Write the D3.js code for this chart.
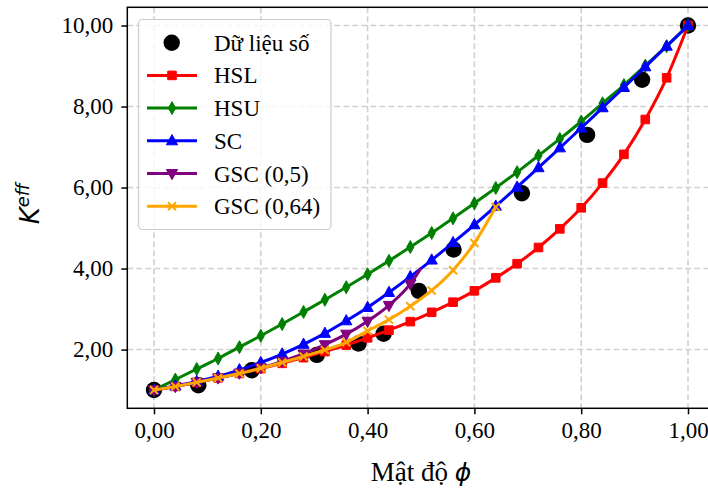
<!DOCTYPE html>
<html>
<head>
<meta charset="utf-8">
<script src="https://cdn.jsdelivr.net/npm/d3@7"></script>
<style>
  body { margin: 0; background: #fff; }
  svg { display: block; }
</style>
</head>
<body>
<div id="chart"></div>
<script>
// volume fraction grid used by the bound curves
const phiGrid = [0, 0.04, 0.08, 0.12, 0.16, 0.20, 0.24, 0.28, 0.32, 0.36, 0.40, 0.44, 0.48,
                 0.52, 0.56, 0.60, 0.64, 0.68, 0.72, 0.76, 0.80, 0.84, 0.88, 0.92, 0.96, 1.00];
const hslK = [1.00, 1.09, 1.19, 1.30, 1.41, 1.53, 1.66, 1.80, 1.95, 2.11, 2.29, 2.48, 2.69,
              2.92, 3.17, 3.45, 3.77, 4.12, 4.52, 4.98, 5.50, 6.11, 6.82, 7.68, 8.71, 10.00];
const hsuK = [1.00, 1.26, 1.52, 1.78, 2.06, 2.34, 2.63, 2.93, 3.23, 3.54, 3.86, 4.19, 4.53,
              4.88, 5.24, 5.61, 5.99, 6.38, 6.79, 7.20, 7.63, 8.08, 8.53, 9.01, 9.49, 10.00];
const scK  = [1.00, 1.10, 1.21, 1.34, 1.50, 1.68, 1.89, 2.13, 2.40, 2.71, 3.04, 3.41, 3.80,
              4.21, 4.64, 5.08, 5.54, 6.01, 6.49, 6.98, 7.47, 7.97, 8.47, 8.98, 9.49, 10.00];
const gsc05Phi = [0, 0.04, 0.08, 0.12, 0.16, 0.20, 0.24, 0.28, 0.32, 0.36, 0.40, 0.44, 0.48, 0.50];
const gsc05K   = [1.00, 1.09, 1.19, 1.30, 1.42, 1.55, 1.71, 1.89, 2.12, 2.38, 2.70, 3.09, 3.62, 4.01];
const gsc064Phi = [0, 0.04, 0.08, 0.12, 0.16, 0.20, 0.24, 0.28, 0.32, 0.36, 0.40, 0.44, 0.48,
                   0.52, 0.56, 0.60, 0.64];
const gsc064K   = [1.00, 1.09, 1.19, 1.30, 1.41, 1.54, 1.68, 1.83, 1.99, 2.18, 2.46, 2.74, 3.07,
                   3.46, 3.96, 4.63, 5.52];
// numerical results
const dataPhi = [0, 0.083, 0.183, 0.305, 0.383, 0.430, 0.496, 0.561, 0.689, 0.811, 0.914, 1.0];
const dataK   = [1.00, 1.12, 1.49, 1.87, 2.15, 2.39, 3.45, 4.47, 5.86, 7.30, 8.66, 10.00];

const xTicks = [0, 0.2, 0.4, 0.6, 0.8, 1.0];
const yTicks = [2, 4, 6, 8, 10];
const labels = ["Dữ liệu số", "HSL", "HSU", "SC", "GSC (0,5)", "GSC (0,64)"];

const W = 708, H = 488;
const margin = { top: 7.3, left: 127.3 };
const width = 587.4, height = 401;

const fmt = v => d3.format(".2f")(v).replace(".", ",");

const svg = d3.select("#chart").append("svg")
  .attr("width", W)
  .attr("height", H)
  .style("overflow", "hidden");

const x = d3.scaleLinear().domain([-0.05, 1.05]).range([0, width]);
const y = d3.scaleLinear().domain([0.55, 10.45]).range([height, 0]);

const g = svg.append("g")
  .attr("transform", "translate(" + margin.left + "," + margin.top + ")");

// grid
g.append("g").selectAll("line")
  .data(xTicks).enter().append("line")
    .attr("x1", d => x(d)).attr("x2", d => x(d))
    .attr("y1", 0).attr("y2", height)
    .attr("stroke", "#d0d0d0").attr("stroke-width", 1.6)
    .attr("stroke-dasharray", "6,3");
g.append("g").selectAll("line")
  .data(yTicks).enter().append("line")
    .attr("y1", d => y(d)).attr("y2", d => y(d))
    .attr("x1", 0).attr("x2", width)
    .attr("stroke", "#d0d0d0").attr("stroke-width", 1.6)
    .attr("stroke-dasharray", "6,3");

// axes
const xAxis = d3.axisBottom(x).tickValues(xTicks).tickFormat(fmt).tickSize(6).tickPadding(7);
const yAxis = d3.axisLeft(y).tickValues(yTicks).tickFormat(fmt).tickSize(6).tickPadding(8);

const gx = g.append("g")
  .attr("transform", "translate(0," + height + ")")
  .call(xAxis);
const gy = g.append("g").call(yAxis);

[gx, gy].forEach(a => {
  a.select(".domain").remove();
  a.selectAll(".tick line").attr("stroke", "#000").attr("stroke-width", 1.5);
  a.selectAll(".tick text")
    .attr("fill", "#000")
    .style("font-family", "'Liberation Serif', 'Times New Roman', serif")
    .style("font-size", "23px");
});

// markers
const markerPath = {
  square: "M-4.3,-4.3H4.3V4.3H-4.3Z",
  thinDiamond: "M0,-6.5L3.6,0L0,6.5L-3.6,0Z",
  triUp: "M0,-6.2L5.6,4L-5.6,4Z",
  triDown: "M0,6.2L5.6,-4L-5.6,-4Z",
  cross: "M-4,-4L4,4M-4,4L4,-4"
};

const series = [
  { phi: phiGrid, k: hslK, color: "red", marker: "square" },
  { phi: phiGrid, k: hsuK, color: "green", marker: "thinDiamond" },
  { phi: phiGrid, k: scK, color: "blue", marker: "triUp" },
  { phi: gsc05Phi, k: gsc05K, color: "purple", marker: "triDown" },
  { phi: gsc064Phi, k: gsc064K, color: "orange", marker: "cross" }
];

const line = d3.line()
  .x(d => x(d[0]))
  .y(d => y(d[1]))
  .curve(d3.curveMonotoneX);

function drawMarker(sel, s) {
  const p = sel.append("path").attr("d", markerPath[s.marker]);
  if (s.marker === "cross") {
    p.attr("fill", "none").attr("stroke", s.color).attr("stroke-width", 2);
  } else {
    p.attr("fill", s.color).attr("stroke", s.color).attr("stroke-width", 1);
  }
}

// numerical data dots
g.append("g").selectAll("circle")
  .data(dataPhi.map((p, i) => [p, dataK[i]]))
  .enter().append("circle")
    .attr("cx", d => x(d[0]))
    .attr("cy", d => y(d[1]))
    .attr("r", 8.2)
    .attr("fill", "#000");

series.forEach(s => {
  const pts = s.phi.map((p, i) => [p, s.k[i]]);
  const sg = g.append("g");
  sg.append("path")
    .datum(pts)
    .attr("d", line)
    .attr("fill", "none")
    .attr("stroke", s.color)
    .attr("stroke-width", 3)
    .attr("stroke-linejoin", "round");
  // markers only on the 0.04 grid
  pts.filter(d => Math.abs(Math.round(d[0] / 0.04) * 0.04 - d[0]) < 1e-6).forEach(d => {
    const m = sg.append("g").attr("transform", "translate(" + x(d[0]) + "," + y(d[1]) + ")");
    drawMarker(m, s);
  });
});

// frame
g.append("rect")
  .attr("width", width).attr("height", height)
  .attr("fill", "none").attr("stroke", "#000").attr("stroke-width", 1.5);

// axis labels
svg.append("text")
  .attr("x", margin.left + width / 2)
  .attr("y", 481)
  .attr("text-anchor", "middle")
  .style("font-family", "'Liberation Serif', 'Times New Roman', serif")
  .style("font-size", "27px")
  .text("Mật độ ")
  .append("tspan")
    .style("font-family", "'DejaVu Sans', sans-serif")
    .style("font-style", "italic")
    .style("font-size", "25px")
    .text("ϕ");

const yl = svg.append("text")
  .attr("transform", "translate(39," + (margin.top + height / 2 - 4) + ") rotate(-90)")
  .attr("text-anchor", "middle")
  .style("font-family", "'DejaVu Sans', sans-serif")
  .style("font-style", "italic")
  .style("font-size", "26px");
yl.append("tspan").text("K");
yl.append("tspan").attr("dy", -10).style("font-size", "18px").text("eff");

// legend
const lg = svg.append("g");
lg.append("rect")
  .attr("x", 138.5).attr("y", 19.5)
  .attr("width", 192.5).attr("height", 210)
  .attr("rx", 4)
  .attr("fill", "#fff").attr("fill-opacity", 0.8)
  .attr("stroke", "#cccccc").attr("stroke-width", 1.2);

const rowY = i => 42.7 + i * 32.7;
labels.forEach((lab, i) => {
  const cy = rowY(i);
  if (i === 0) {
    lg.append("circle").attr("cx", 171.7).attr("cy", cy).attr("r", 8.2).attr("fill", "#000");
  } else {
    const s = series[i - 1];
    lg.append("line")
      .attr("x1", 147).attr("x2", 197)
      .attr("y1", cy).attr("y2", cy)
      .attr("stroke", s.color).attr("stroke-width", 3);
    drawMarker(lg.append("g").attr("transform", "translate(172," + cy + ")"), s);
  }
  lg.append("text")
    .attr("x", 214).attr("y", cy + 8)
    .style("font-family", "'Liberation Serif', 'Times New Roman', serif")
    .style("font-size", "23px")
    .text(lab);
});
</script>
</body>
</html>
